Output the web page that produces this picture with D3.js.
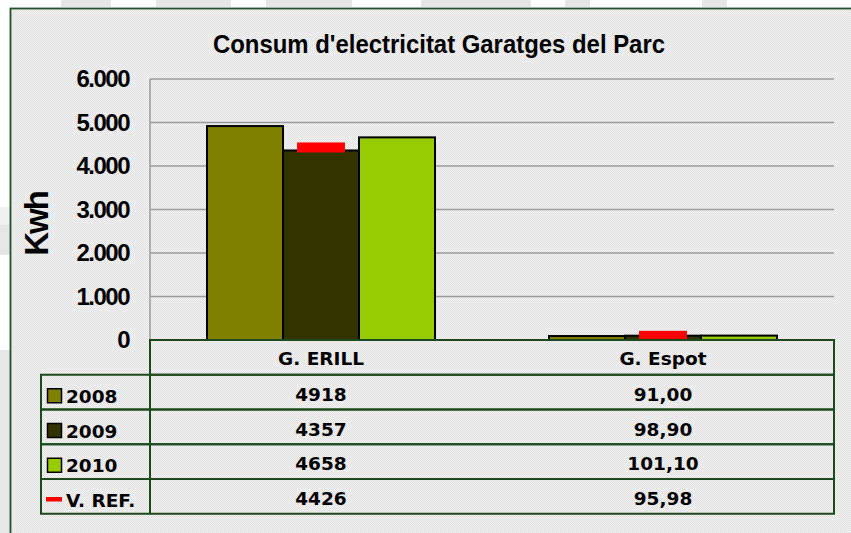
<!DOCTYPE html>
<html>
<head>
<meta charset="utf-8">
<script src="https://cdn.jsdelivr.net/npm/d3@7"></script>
<style>
  body { margin: 0; background: #fff; }
  svg { display: block; }
</style>
</head>
<body>
<svg id="main" width="851" height="533"></svg>
<script>
const categories = ["G. ERILL", "G. Espot"];
const series = ["2008", "2009", "2010"];
const values2008 = [4918, 91.00];
const values2009 = [4357, 98.90];
const values2010 = [4658, 101.10];
const refValues = [4426, 95.98];
const decimals = [0, 2];
const yTicks = [0, 1000, 2000, 3000, 4000, 5000, 6000];
const colors = ["#808000", "#333300", "#99cc00"];
const refLabel = "V. REF.";
const title = "Consum d'electricitat Garatges del Parc";

const seriesValues = [values2008, values2009, values2010];
const locale = d3.formatLocale({ decimal: ",", thousands: ".", grouping: [3], currency: ["", ""] });
const tickFmt = locale.format(",d");

const svg = d3.select("#main");

// page background bits outside the chart frame
const deco = [[61, 0, 50, 7], [156, 0, 75, 7], [266, 0, 86, 7], [421, 0, 110, 7], [565, 0, 25, 7], [702, 0, 25, 7],
  [0, 207, 10, 18, "#f0f0f0"], [0, 225, 10, 30], [0, 350, 10, 183]];
svg.selectAll("rect.deco").data(deco).enter().append("rect")
  .attr("x", d => d[0]).attr("y", d => d[1]).attr("width", d => d[2]).attr("height", d => d[3])
  .attr("fill", d => d[4] || "#e6e6e6");

const defs = svg.append("defs");
const pat = defs.append("pattern").attr("id", "dots").attr("width", 2).attr("height", 2).attr("patternUnits", "userSpaceOnUse");
pat.append("rect").attr("width", 2).attr("height", 2).attr("fill", "#f1f1f1");
pat.append("rect").attr("width", 1).attr("height", 1).attr("fill", "#e2e2e2");
pat.append("rect").attr("x", 1).attr("y", 1).attr("width", 1).attr("height", 1).attr("fill", "#e2e2e2");

// chart frame
svg.append("rect").attr("x", 10.5).attr("y", 8.5).attr("width", 860).attr("height", 540)
  .attr("fill", "url(#dots)").attr("stroke", "#24502a").attr("stroke-width", 1.8);

const plotL = 150, plotR = 834, plotT = 79, plotB = 340;
const y = d3.scaleLinear().domain([0, 6000]).range([plotB, plotT]);
const x0 = d3.scaleBand().domain(categories).range([plotL, plotR]);
const bw = x0.bandwidth();
const gw = bw * 2 / 3;
const x1 = d3.scaleBand().domain(series).range([(bw - gw) / 2, (bw + gw) / 2]);

// title
svg.append("text").attr("x", 439).attr("y", 53).attr("text-anchor", "middle")
  .attr("font-family", "Liberation Sans, Arial, sans-serif").attr("font-weight", "bold")
  .attr("font-size", 25).attr("textLength", 452).attr("lengthAdjust", "spacingAndGlyphs")
  .text(title);

// gridlines
svg.append("g").selectAll("line").data(yTicks.filter(d => d > 0)).enter().append("line")
  .attr("x1", plotL).attr("x2", plotR).attr("y1", d => y(d)).attr("y2", d => y(d))
  .attr("stroke", "#9a9a9a").attr("stroke-width", 1.5);
svg.append("line").attr("x1", plotL).attr("x2", plotL).attr("y1", plotT).attr("y2", plotB)
  .attr("stroke", "#9a9a9a").attr("stroke-width", 1.5);

// y tick labels
const yAxis = d3.axisLeft(y).tickValues(yTicks).tickFormat(tickFmt).tickSize(0).tickPadding(0);
const ga = svg.append("g").attr("transform", "translate(129,0)").call(yAxis);
ga.select(".domain").remove();
ga.selectAll("text").attr("font-family", "Liberation Sans, Arial, sans-serif").attr("font-weight", "bold")
  .attr("font-size", 24).attr("letter-spacing", -1.5).attr("fill", "#000");

svg.append("text").attr("transform", "translate(48,224) rotate(-90)").attr("text-anchor", "middle")
  .attr("font-family", "Liberation Sans, Arial, sans-serif").attr("font-weight", "bold")
  .attr("font-size", 33).attr("letter-spacing", -2).text("Kwh");

// bars
const barData = [];
categories.forEach((c, i) => series.forEach((s, j) => barData.push({ c, s, v: seriesValues[j][i], color: colors[j] })));
svg.append("g").selectAll("rect").data(barData).enter().append("rect")
  .attr("x", d => x0(d.c) + x1(d.s)).attr("width", x1.bandwidth())
  .attr("y", d => y(d.v)).attr("height", d => y(0) - y(d.v))
  .attr("fill", d => d.color).attr("stroke", "#000").attr("stroke-width", 2);

// reference markers
const refW = x1.bandwidth() * 0.63;
svg.append("g").selectAll("rect").data(categories).enter().append("rect")
  .attr("x", d => x0(d) + bw / 2 - refW / 2).attr("width", refW)
  .attr("y", (d, i) => y(refValues[i]) - 5).attr("height", 10)
  .attr("fill", "#ff0000");

// data table
const rowH = 34.75;
const tableTop = plotB, legLeft = 41;
const rows = series.map((s, j) => ({ label: s, vals: seriesValues[j], color: colors[j] }))
  .concat([{ label: refLabel, vals: refValues, ref: true }]);
const fmtCell = (v, i) => locale.format("." + decimals[i] + "f")(v);
const tfont = "DejaVu Sans, Verdana, sans-serif";
const lineColor = "#1c4a1c";

const tg = svg.append("g");
tg.append("rect").attr("x", plotL).attr("y", tableTop).attr("width", plotR - plotL).attr("height", rowH)
  .attr("fill", "url(#dots)").attr("stroke", lineColor).attr("stroke-width", 2);
tg.selectAll("text.cat").data(categories).enter().append("text")
  .attr("x", d => x0(d) + bw / 2).attr("y", tableTop + 25).attr("text-anchor", "middle")
  .attr("font-family", tfont).attr("font-weight", "bold").attr("font-size", 18.5).text(d => d);

const rg = tg.selectAll("g.row").data(rows).enter().append("g")
  .attr("transform", (d, i) => `translate(0,${tableTop + rowH * (i + 1)})`);
rg.append("rect").attr("x", legLeft).attr("width", plotR - legLeft).attr("height", rowH)
  .attr("fill", "none").attr("stroke", lineColor).attr("stroke-width", 2);
rg.append("line").attr("x1", plotL).attr("x2", plotL).attr("y1", 0).attr("y2", rowH)
  .attr("stroke", lineColor).attr("stroke-width", 2);
rg.filter(d => !d.ref).append("rect").attr("x", 47.5).attr("y", 14).attr("width", 14).attr("height", 14)
  .attr("fill", d => d.color).attr("stroke", "#000").attr("stroke-width", 1.5);
rg.filter(d => d.ref).append("rect").attr("x", 46).attr("y", 18).attr("width", 16).attr("height", 4.5)
  .attr("fill", "#ff0000");
rg.append("text").attr("x", 66).attr("y", 28)
  .attr("font-family", tfont).attr("font-weight", "bold").attr("font-size", 18.5).text(d => d.label);
rg.selectAll("text.val").data(d => d.vals).enter().append("text")
  .attr("x", (d, i) => x0(categories[i]) + bw / 2).attr("y", 26).attr("text-anchor", "middle")
  .attr("font-family", tfont).attr("font-weight", "bold").attr("font-size", 18.5)
  .text((d, i) => fmtCell(d, i));
</script>
</body>
</html>
